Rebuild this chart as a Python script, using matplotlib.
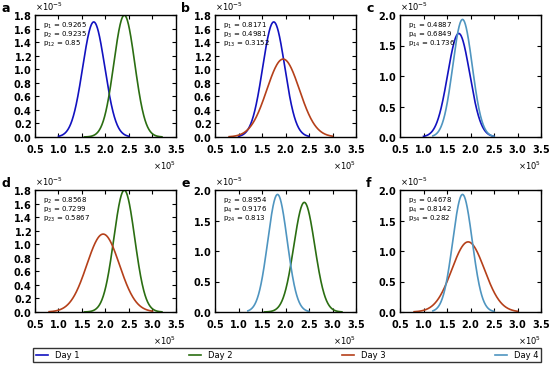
import numpy as np
import matplotlib
matplotlib.use('Agg')
import matplotlib.pyplot as plt
from matplotlib.ticker import ScalarFormatter, MultipleLocator

# fitted normal curves for each day (mean, std) and the span they are drawn over
days = ['Day 1', 'Day 2', 'Day 3', 'Day 4']
means = [1.75e5, 2.40e5, 1.95e5, 1.83e5]
stds = [2.35e4, 2.22e4, 3.47e4, 2.07e4]
spans = [(1.0e5, 2.5e5), (1.55e5, 3.2e5), (0.8e5, 3.0e5), (1.2e5, 2.5e5)]
colors = ['#1212c0', '#2b6e12', '#b5401a', '#4f95c0']

# which pair of days each panel compares, with its probabilities
labels = ['a', 'b', 'c', 'd', 'e', 'f']
pairs = [(0, 1), (0, 2), (0, 3), (1, 2), (1, 3), (2, 3)]
p_text = [('1', '0.9265', '2', '0.9235', '12', '0.85'),
          ('1', '0.8171', '3', '0.4981', '13', '0.3152'),
          ('1', '0.4887', '4', '0.6849', '14', '0.1736'),
          ('2', '0.8568', '3', '0.7299', '23', '0.5867'),
          ('2', '0.8954', '4', '0.9176', '24', '0.813'),
          ('3', '0.4678', '4', '0.8142', '34', '0.282')]
ymax = [1.8, 1.8, 2.0, 1.8, 2.0, 2.0]
ystep = [0.2, 0.2, 0.5, 0.2, 0.5, 0.5]

plt.rcParams['font.family'] = 'DejaVu Sans'
fig = plt.figure(figsize=(5.5, 3.65), dpi=100)

lefts = [35, 215, 400]
bottoms = [365 - 137, 365 - 312]
w, h = 141, 122

lines = {}
for k in range(6):
    r, c = divmod(k, 3)
    ax = fig.add_axes([lefts[c] / 550, bottoms[r] / 365, w / 550, h / 365])
    for d in pairs[k]:
        x = np.linspace(spans[d][0], spans[d][1], 300)
        y = np.exp(-0.5 * ((x - means[d]) / stds[d]) ** 2) / (stds[d] * np.sqrt(2 * np.pi))
        ln, = ax.plot(x, y, color=colors[d], lw=1.2)
        lines[d] = ln
    ax.set_xlim(0.5e5, 3.5e5)
    ax.set_ylim(0, ymax[k] * 1e-5)
    ax.xaxis.set_major_locator(MultipleLocator(0.5e5))
    ax.yaxis.set_major_locator(MultipleLocator(ystep[k] * 1e-5))
    for axis in (ax.xaxis, ax.yaxis):
        fmt = ScalarFormatter(useMathText=True)
        fmt.set_powerlimits((0, 0))
        axis.set_major_formatter(fmt)
    ax.tick_params(direction='in', top=True, right=True, length=3, width=0.8,
                   labelsize=7)
    ax.tick_params(axis='x', pad=4.5)
    ax.tick_params(axis='y', pad=2.5)
    for t in ax.get_xticklabels() + ax.get_yticklabels():
        t.set_fontweight('bold')
    ax.yaxis.get_offset_text().set_fontsize(6)
    ax.xaxis.get_offset_text().set_fontsize(6)
    for s in ax.spines.values():
        s.set_linewidth(1.0)
    a, pa, b, pb, ab, pab = p_text[k]
    rows = [r'p$_{%s}$ = %s' % (a, pa), r'p$_{%s}$ = %s' % (b, pb),
            r'p$_{%s}$ = %s' % (ab, pab)]
    for i, s in enumerate(rows):
        ax.text(0.055, 0.91 - i * 0.072, s, transform=ax.transAxes,
                fontsize=5.0, va='center')
    ax.text(-0.24, 1.0, labels[k], transform=ax.transAxes, fontsize=9,
            fontweight='bold', va='bottom', ha='left')

leg = fig.legend([lines[i] for i in range(4)], days, loc='lower left',
                 bbox_to_anchor=(33 / 550, 3 / 365, 508 / 550, 14 / 365),
                 ncol=4, mode='expand', fontsize=6, frameon=True, fancybox=False,
                 borderaxespad=0, handlelength=1.5, borderpad=0.3)
leg.get_frame().set_edgecolor('black')
leg.get_frame().set_linewidth(1.0)

fig.savefig('out.png', dpi=100)
